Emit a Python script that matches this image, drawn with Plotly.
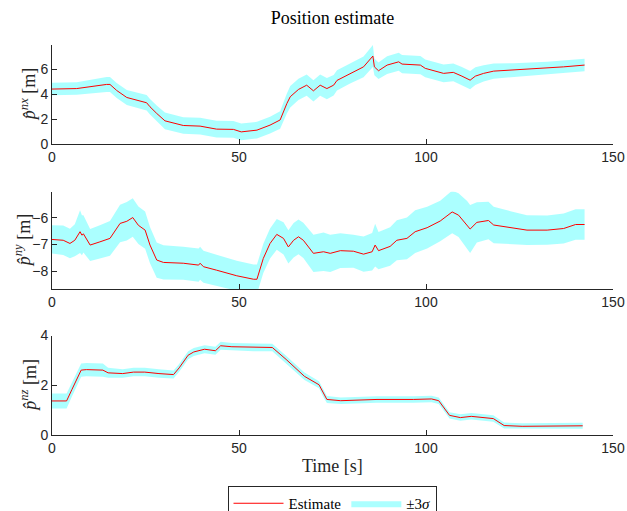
import plotly.graph_objects as go

# ---------------- data ----------------
t_x = [0, 6.6, 14.6, 15.5, 17.3, 20, 25.3, 26.2, 28, 30.2, 35.1, 39.6, 44, 48.5, 50.6, 54.8,
       58.3, 61, 62.8, 63.7, 65.9, 68.1, 69.9, 71.7, 73.5, 75.3, 76.2, 79.7, 83.3, 85.8, 86.2,
       87.3, 89.6, 92.7, 93.6, 98.5, 99.8, 104.7, 107.3, 109.6, 111.8, 113.2, 115.4, 118.1,
       123.4, 132.4, 136.8, 142.4]
est_x = [4.41, 4.45, 4.78, 4.78, 4.30, 3.74, 3.32, 3.00, 2.47, 1.88, 1.51, 1.46, 1.22, 1.20,
         1.00, 1.14, 1.54, 1.95, 3.26, 3.80, 4.38, 4.72, 4.27, 4.72, 4.45, 4.72, 5.10, 5.66,
         6.18, 7.04, 6.18, 5.87, 6.32, 6.58, 6.40, 6.32, 6.06, 5.66, 5.74, 5.44, 5.12, 5.44,
         5.66, 5.84, 5.92, 6.06, 6.18, 6.32]
sig3_x = [0.50, 0.50, 0.60, 0.60, 0.60, 0.60, 0.62, 0.62, 0.64, 0.66, 0.66, 0.66, 0.66, 0.66,
          0.66, 0.66, 0.66, 0.70, 0.80, 0.85, 0.85, 0.85, 0.85, 0.85, 0.85, 0.82, 0.80, 0.80,
          0.82, 0.88, 0.66, 0.66, 0.70, 0.72, 0.72, 0.72, 0.70, 0.70, 0.70, 0.72, 0.73, 0.70,
          0.65, 0.60, 0.55, 0.52, 0.50, 0.50]

t_y = [0, 3, 4.8, 6.1, 7.5, 8.0, 8.4, 10.2, 12.8, 15.5, 18.2, 20, 21.6, 23.1, 24.9, 26.2, 28,
       29.8, 35.1, 39.2, 39.6, 40.5, 44, 49.4, 53.9, 54.8, 56.5, 58.3, 60.1, 61.9, 63.2, 64.6,
       65.9, 67.2, 69.9, 72.6, 74.4, 77.1, 80.6, 83.3, 85.6, 86.4, 87.3, 90.4, 92.2, 94.9,
       97.1, 100.3, 103.8, 107, 108.7, 111, 111.8, 113.6, 116.7, 118.1, 122.6, 127, 132.4,
       136.8, 140, 142.4]
est_y = [-6.81, -6.84, -6.96, -6.84, -6.52, -6.65, -6.60, -7.02, -6.90, -6.77, -6.21, -6.13,
         -5.99, -6.28, -6.46, -7.02, -7.58, -7.67, -7.70, -7.77, -7.70, -7.83, -7.96, -8.17,
         -8.30, -8.30, -7.52, -6.96, -6.62, -6.77, -7.09, -6.84, -6.71, -6.84, -7.33, -7.27,
         -7.33, -7.23, -7.25, -7.36, -7.27, -7.02, -7.23, -7.07, -6.84, -6.77, -6.52, -6.37,
         -6.12, -5.78, -5.90, -6.27, -6.42, -6.17, -6.10, -6.27, -6.37, -6.46, -6.46, -6.40,
         -6.25, -6.25]
sig3_y = [0.53, 0.55, 0.55, 0.60, 0.80, 0.75, 0.70, 0.60, 0.62, 0.65, 0.70, 0.72, 0.72, 0.70,
          0.70, 0.68, 0.66, 0.64, 0.62, 0.62, 0.62, 0.60, 0.58, 0.56, 0.55, 0.55, 0.55, 0.56,
          0.58, 0.60, 0.62, 0.65, 0.65, 0.66, 0.70, 0.72, 0.70, 0.65, 0.62, 0.66, 0.70, 0.80,
          0.70, 0.72, 0.75, 0.78, 0.80, 0.78, 0.76, 0.80, 0.82, 0.90, 0.90, 0.75, 0.70, 0.68,
          0.62, 0.56, 0.55, 0.56, 0.57, 0.57]

t_z = [0, 3.9, 5.3, 7.8, 9.2, 13.6, 15.0, 18.9, 21.8, 24.8, 28.6, 32.5, 34.0, 36.4, 37.9, 40.8,
       43.7, 45.1, 48.1, 53.9, 58.9, 62.6, 67.5, 71.4, 72.5, 73.5, 77.2, 86.9, 96.6, 101.5,
       103.4, 106.3, 109.2, 112.1, 118.0, 120.9, 125.7, 135.4, 141.9]
est_z = [1.37, 1.37, 1.82, 2.61, 2.63, 2.61, 2.50, 2.47, 2.53, 2.53, 2.47, 2.43, 2.70, 3.21,
         3.34, 3.45, 3.39, 3.59, 3.55, 3.52, 3.52, 3.04, 2.36, 2.02, 1.68, 1.43, 1.38, 1.43,
         1.43, 1.45, 1.38, 0.79, 0.70, 0.75, 0.66, 0.38, 0.35, 0.37, 0.37]
sig3_z = [0.30, 0.30, 0.28, 0.27, 0.27, 0.27, 0.20, 0.17, 0.17, 0.17, 0.17, 0.16, 0.16, 0.16,
          0.16, 0.16, 0.16, 0.16, 0.15, 0.15, 0.15, 0.15, 0.15, 0.14, 0.14, 0.14, 0.13, 0.13,
          0.13, 0.13, 0.13, 0.13, 0.13, 0.13, 0.13, 0.12, 0.12, 0.12, 0.12]

x_ticks = [0, 50, 100, 150]
y_ticks = [[0, 2, 4, 6], [-8, -7, -6], [0, 2, 4]]
y_ranges = [[0, 7.92], [-8.67, -5.02], [0, 4]]
y_labels = ["<i>p\u0302</i><sup><i>nx</i></sup> [m]",
            "<i>p\u0302</i><sup><i>ny</i></sup> [m]",
            "<i>p\u0302</i><sup><i>nz</i></sup> [m]"]
title_text = "Position estimate"
xlabel_text = "Time [s]"

# ---------------- figure ----------------
SERIF = "Liberation Serif"
SANS = "Liberation Sans, Arial, sans-serif"
AX = "#262626"

fig = go.Figure()
series = [(t_x, est_x, sig3_x), (t_y, est_y, sig3_y), (t_z, est_z, sig3_z)]
for i, (t, e, s) in enumerate(series):
    xa = "x" if i == 0 else f"x{i+1}"
    ya = "y" if i == 0 else f"y{i+1}"
    upper = [a + b for a, b in zip(e, s)]
    lower = [a - b for a, b in zip(e, s)]
    fig.add_trace(go.Scatter(
        x=t + t[::-1], y=upper + lower[::-1], fill="toself",
        fillcolor="rgba(0,255,255,0.33)", line=dict(width=0),
        mode="lines", name="\u00b13<i>\u03c3</i>", legendrank=2,
        showlegend=(i == 0), hoverinfo="skip", xaxis=xa, yaxis=ya))
    fig.add_trace(go.Scatter(
        x=t, y=e, mode="lines", line=dict(color="#ff0000", width=1),
        name="Estimate", legendrank=1, showlegend=(i == 0), xaxis=xa, yaxis=ya))

domains = [[0.745, 1.0], [0.374, 0.624], [0.0, 0.255]]
layout = dict(
    width=627, height=511,
    margin=dict(l=52, r=14, t=45, b=76, autoexpand=False),
    paper_bgcolor="white", plot_bgcolor="white",
    title=dict(text=title_text, x=0.5, xref="paper", xanchor="center",
               y=1 - 18 / 511, yref="container", yanchor="middle",
               font=dict(family=SERIF, size=18, color="#000000")),
    legend=dict(orientation="h", x=332 / 627, xref="container", xanchor="center",
                y=25 / 511, yref="container", yanchor="top",
                bordercolor=AX, borderwidth=1, bgcolor="white",
                font=dict(family=SERIF, size=15, color="#000000"),
                itemwidth=50, tracegroupgap=0),
    showlegend=True,
)
for i in range(3):
    xk = "xaxis" if i == 0 else f"xaxis{i+1}"
    yk = "yaxis" if i == 0 else f"yaxis{i+1}"
    ya = "y" if i == 0 else f"y{i+1}"
    xa = "x" if i == 0 else f"x{i+1}"
    layout[xk] = dict(domain=[0, 1], anchor=ya, range=[0, 150], tickvals=x_ticks,
                      ticks="inside", ticklen=5, tickcolor=AX, showline=True,
                      linecolor=AX, linewidth=1, showgrid=False, zeroline=False,
                      automargin=False,
                      tickfont=dict(family=SANS, size=14, color=AX))
    layout[yk] = dict(domain=domains[i], anchor=xa, range=y_ranges[i], tickvals=y_ticks[i],
                      ticks="inside", ticklen=5, tickcolor=AX, showline=True,
                      linecolor=AX, linewidth=1, showgrid=False, zeroline=False,
                      automargin=False,
                      tickfont=dict(family=SANS, size=14, color=AX))
fig.update_layout(**layout)

label_x = [-0.042, -0.052, -0.042]
for i in range(3):
    ya = "y" if i == 0 else f"y{i+1}"
    fig.add_annotation(text=y_labels[i], textangle=-90, xref="paper", x=label_x[i],
                       yref=f"{ya} domain", y=0.5, xanchor="center", yanchor="middle",
                       showarrow=False, font=dict(family=SERIF, size=18, color=AX))
fig.add_annotation(text=xlabel_text, xref="x3 domain", x=0.5, yref="paper", y=-0.0787,
                   xanchor="center", yanchor="middle", showarrow=False,
                   font=dict(family=SERIF, size=18, color=AX))

fig.write_html("out.html")
